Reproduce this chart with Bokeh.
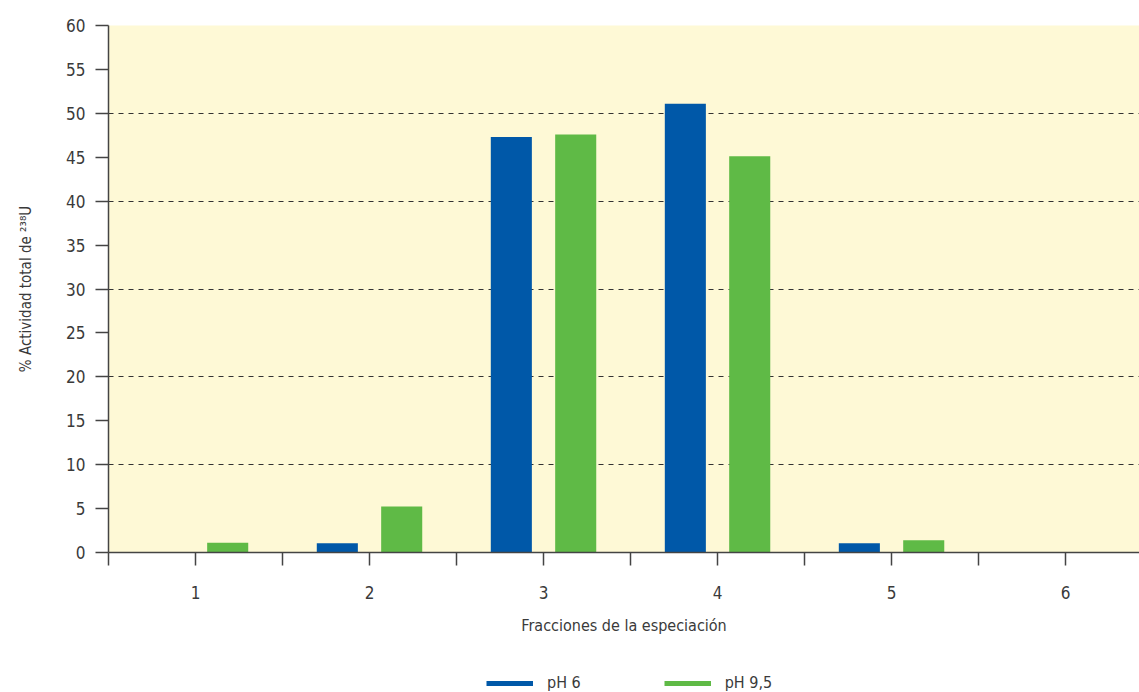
from bokeh.plotting import figure
from bokeh.layouts import column
from bokeh.models import (FixedTicker, Legend, LegendItem, Range1d, ColumnDataSource)
from bokeh.embed import file_html
from bokeh.resources import INLINE

categories = [1, 2, 3, 4, 5, 6]
ph6 = [0.0, 1.05, 47.3, 51.1, 1.05, 0.0]
ph95 = [1.1, 5.25, 47.6, 45.1, 1.4, 0.0]
series_names = ["pH 6", "pH 9,5"]
y_ticks = [0, 5, 10, 15, 20, 25, 30, 35, 40, 45, 50, 55, 60]
grid_ticks = [10, 20, 30, 40, 50]

FONT = "DejaVu Sans Condensed"
TXT = "#3a3a3a"
BLUE = "#0058a8"
GREEN = "#5fba46"

p = figure(width=1139, height=652, output_backend="svg", toolbar_location=None,
           x_range=Range1d(0.5, 6.425), y_range=Range1d(0, 60),
           min_border_left=108, min_border_right=0, min_border_top=25, min_border_bottom=100)
p.outline_line_color = None
p.background_fill_color = "#fef9d6"
p.border_fill_color = "white"

off = 0.185
w = 0.236
src = ColumnDataSource(dict(x1=[c - off for c in categories], x2=[c + off for c in categories],
                            a=ph6, b=ph95))
p.vbar(x="x1", top="a", width=w, source=src, color=BLUE, line_color=None)
p.vbar(x="x2", top="b", width=w, source=src, color=GREEN, line_color=None)

# grid
p.xgrid.grid_line_color = None
p.ygrid.ticker = FixedTicker(ticks=grid_ticks)
p.ygrid.grid_line_color = "#333333"
p.ygrid.grid_line_dash = "5 5"
p.ygrid.grid_line_width = 1

# y axis
p.yaxis.ticker = FixedTicker(ticks=y_ticks)
p.yaxis.axis_line_color = "#444444"
p.yaxis.axis_line_width = 1.5
p.yaxis.major_tick_line_color = "#444444"
p.yaxis.major_tick_line_width = 1.5
p.yaxis.major_tick_in = 0
p.yaxis.major_tick_out = 13
p.yaxis.minor_tick_line_color = None
p.yaxis.major_label_standoff = 10
p.yaxis.major_label_text_font = FONT
p.yaxis.major_label_text_font_size = "17px"
p.yaxis.major_label_text_color = TXT
p.yaxis.axis_label = "% Actividad total de \u00b2\u00b3\u2078U"
p.yaxis.axis_label_text_font = FONT
p.yaxis.axis_label_text_font_size = "15px"
p.yaxis.axis_label_text_font_style = "normal"
p.yaxis.axis_label_text_color = TXT
p.yaxis.axis_label_standoff = 28

# x axis
half_ticks = [0.5 + 0.5 * i for i in range(12)]
p.xaxis.ticker = FixedTicker(ticks=half_ticks)
p.xaxis.major_label_overrides = {t: (str(int(t)) if t == int(t) else "") for t in half_ticks}
p.xaxis.axis_line_color = "#444444"
p.xaxis.axis_line_width = 1.5
p.xaxis.major_tick_line_color = "#444444"
p.xaxis.major_tick_line_width = 1.5
p.xaxis.major_tick_in = 0
p.xaxis.major_tick_out = 13
p.xaxis.minor_tick_line_color = None
p.xaxis.major_label_standoff = 20
p.xaxis.major_label_text_font = FONT
p.xaxis.major_label_text_font_size = "17px"
p.xaxis.major_label_text_color = TXT
p.xaxis.axis_label = "Fracciones de la especiación"
p.xaxis.axis_label_text_font = FONT
p.xaxis.axis_label_text_font_size = "16px"
p.xaxis.axis_label_text_font_style = "normal"
p.xaxis.axis_label_text_color = TXT
p.xaxis.axis_label_standoff = 14

# legend in a separate strip below (its frame is aligned with the main frame)
lg = figure(width=1139, height=40, output_backend="svg", toolbar_location=None,
            x_range=Range1d(0, 1), y_range=Range1d(0, 1),
            x_axis_location=None, y_axis_location=None,
            min_border_left=0, min_border_right=0, min_border_top=0, min_border_bottom=0)
lg.grid.visible = False
lg.outline_line_color = None
# dummy lines (outside the visible range) just to feed the legend glyphs
l1 = lg.line(x=[5, 6], y=[5, 5], line_color=BLUE, line_width=5)
l2 = lg.line(x=[5, 6], y=[5, 5], line_color=GREEN, line_width=5)
legend = Legend(items=[LegendItem(label=series_names[0], renderers=[l1]),
                       LegendItem(label=series_names[1], renderers=[l2])],
                orientation="horizontal", location=(378, 0),
                glyph_width=47, glyph_height=18, spacing=83, label_standoff=14,
                label_text_font=FONT, label_text_font_size="16px", label_text_color=TXT,
                label_height=18, border_line_color=None, background_fill_alpha=0,
                margin=0, padding=0)
lg.add_layout(legend, "center")

layout = column(p, lg, spacing=0)
open("out.html", "w").write(file_html(layout, INLINE))
